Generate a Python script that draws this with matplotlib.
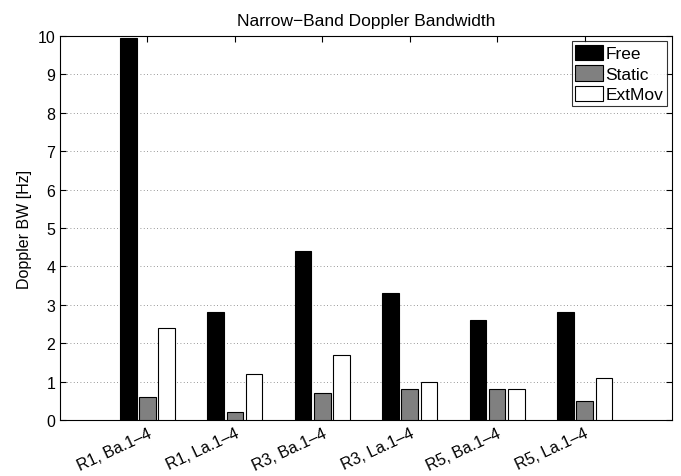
import numpy as np
import matplotlib
matplotlib.use("Agg")
import matplotlib.pyplot as plt

plt.rcParams['font.family'] = ['Liberation Sans', 'DejaVu Sans']

# data
groups = ['R1, Ba.1\u20134', 'R1, La.1\u20134', 'R3, Ba.1\u20134',
          'R3, La.1\u20134', 'R5, Ba.1\u20134', 'R5, La.1\u20134']
free = [9.95, 2.8, 4.4, 3.3, 2.6, 2.8]
static = [0.6, 0.2, 0.7, 0.8, 0.8, 0.5]
extmov = [2.4, 1.2, 1.7, 1.0, 0.8, 1.1]

fig = plt.figure(figsize=(6.81, 4.77), dpi=100)
ax = fig.add_axes([60/681, 1-421/477, 612/681, 384/477])

x = np.arange(1, len(groups)+1)
w = 0.19
off = 0.22
ax.bar(x-off, free, w, color='black', edgecolor='black', linewidth=0.8, label='Free', zorder=3)
ax.bar(x, static, w, color='#808080', edgecolor='black', linewidth=0.8, label='Static', zorder=3)
ax.bar(x+off, extmov, w, color='white', edgecolor='black', linewidth=0.8, label='ExtMov', zorder=3)

ax.set_xlim(0, 7)
ax.set_ylim(0, 10)
ax.set_yticks(range(0, 11))
ax.set_xticks(x)
ax.set_xticklabels(groups, rotation=25, ha='right', rotation_mode='anchor')
ax.tick_params(direction='in', top=True, right=True, labelsize=11.5, length=4)
ax.tick_params(axis='x', pad=4)
ax.yaxis.grid(True, linestyle=(0, (1, 3)), color='#777777', linewidth=0.6)
ax.set_axisbelow(True)

ax.set_ylabel('Doppler BW [Hz]', fontsize=11.5)
ax.set_title('Narrow\u2212Band Doppler Bandwidth', fontsize=12.5, pad=8)

leg = ax.legend(loc='upper right', fontsize=12.5, frameon=True, fancybox=False,
                edgecolor='black', borderpad=0.2, handlelength=1.6, handleheight=1.0,
                handletextpad=0.15, labelspacing=0.22, borderaxespad=0.3)
leg.get_frame().set_linewidth(0.8)

fig.savefig('out.png', dpi=100)
